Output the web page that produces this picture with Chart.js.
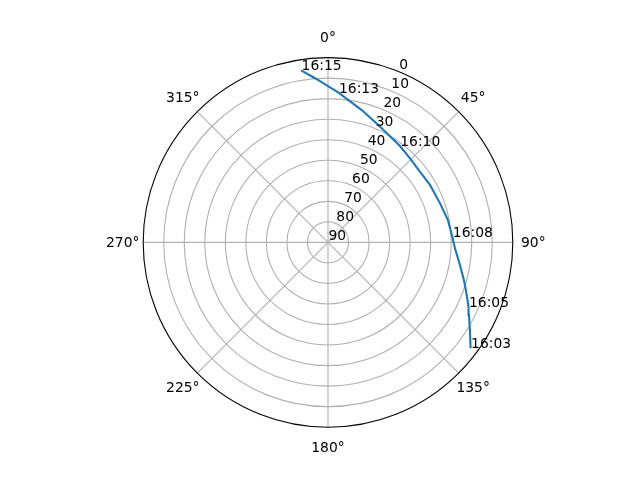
<!DOCTYPE html>
<html>
<head>
<meta charset="utf-8">
<script src="https://cdn.jsdelivr.net/npm/chart.js@4/dist/chart.umd.min.js"></script>
<style>
html,body{margin:0;padding:0;background:#fff;}
canvas{display:block;}
</style>
</head>
<body>
<canvas id="c" width="640" height="480"></canvas>
<script>
// Sky track: time labels, azimuth (deg, clockwise from North), elevation (deg)
const timeLabels   = ['16:03','','','16:05','','','','','16:08','','','','','','16:10','','','16:13','','16:15'];
const azimuthDeg   = [126.6,122.2,117.2,114.8,111.9,106.1,99.7,92.7,87.4,79.5,70.8,60.6,52.5,44.3,36.6,23.2,14.3,4.0,355.5,351.1];
const elevationDeg = [3.5,8.3,12.8,14.6,16.9,20.9,24.8,28.1,29.4,30.6,32.2,33.0,33.5,32.8,31.4,27.8,23.5,16.9,9.8,5.2];
// Axis ticks
const thetaTicks  = [0,45,90,135,180,225,270,315];
const radialTicks = [0,10,20,30,40,50,60,70,80,90];

const FONT = '13.89px "DejaVu Sans"';
const rad = d => d * Math.PI / 180;

const points = azimuthDeg.map((az, i) => ({
  x: (90 - elevationDeg[i]) * Math.sin(rad(az)),
  y: (90 - elevationDeg[i]) * Math.cos(rad(az))
}));

const polarGrid = {
  id: 'polarGrid',
  beforeDatasetsDraw(chart) {
    const {ctx, scales: {x, y}} = chart;
    const cx = x.getPixelForValue(0), cy = y.getPixelForValue(0);
    const rOf = el => x.getPixelForValue(90 - el) - cx;
    const R = rOf(0);
    ctx.save();
    ctx.strokeStyle = '#b0b0b0';
    ctx.lineWidth = 1.1;
    radialTicks.forEach(v => {
      const r = rOf(v);
      if (r <= 0.5 || v === 0) return;
      ctx.beginPath(); ctx.arc(cx, cy, r, 0, Math.PI * 2); ctx.stroke();
    });
    thetaTicks.forEach(t => {
      ctx.beginPath();
      ctx.moveTo(cx, cy);
      ctx.lineTo(cx + R * Math.sin(rad(t)), cy - R * Math.cos(rad(t)));
      ctx.stroke();
    });
    ctx.restore();
  },
  afterDatasetsDraw(chart) {
    const {ctx, scales: {x, y}} = chart;
    const cx = x.getPixelForValue(0), cy = y.getPixelForValue(0);
    const rOf = el => x.getPixelForValue(90 - el) - cx;
    const R = rOf(0);
    ctx.save();
    ctx.strokeStyle = '#000';
    ctx.lineWidth = 1.1;
    ctx.beginPath(); ctx.arc(cx, cy, R, 0, Math.PI * 2); ctx.stroke();
    ctx.fillStyle = '#000';
    ctx.font = FONT;
    ctx.textAlign = 'center'; ctx.textBaseline = 'middle';
    thetaTicks.forEach(t => {
      const rr = R + 20.5;
      ctx.fillText(t + '°', cx + rr * Math.sin(rad(t)), cy - rr * Math.cos(rad(t)) + 1);
    });
    ctx.textAlign = 'left'; ctx.textBaseline = 'alphabetic';
    radialTicks.forEach(v => {
      const r = rOf(v);
      const ax = cx + r * Math.sin(rad(22.5)), ay = cy - r * Math.cos(rad(22.5));
      ctx.fillText(String(v), ax + 0.5, ay - 2.5);
    });
    const meta = chart.getDatasetMeta(0);
    meta.data.forEach((pt, i) => {
      if (timeLabels[i]) ctx.fillText(timeLabels[i], pt.x + 0.5, pt.y);
    });
    ctx.restore();
  }
};

new Chart(document.getElementById('c'), {
  type: 'scatter',
  data: {
    datasets: [{
      data: points,
      showLine: true,
      borderColor: '#1f77b4',
      backgroundColor: '#1f77b4',
      borderWidth: 2.1,
      pointRadius: 0,
      tension: 0,
      clip: false
    }]
  },
  options: {
    responsive: false,
    animation: false,
    devicePixelRatio: 1,
    layout: { padding: { left: 143.2, right: 127.2, top: 57.6, bottom: 52.8 } },
    plugins: { legend: { display: false }, tooltip: { enabled: false } },
    scales: {
      x: { type: 'linear', min: -90, max: 90, display: false },
      y: { type: 'linear', min: -90, max: 90, display: false }
    }
  },
  plugins: [polarGrid]
});
</script>
</body>
</html>
